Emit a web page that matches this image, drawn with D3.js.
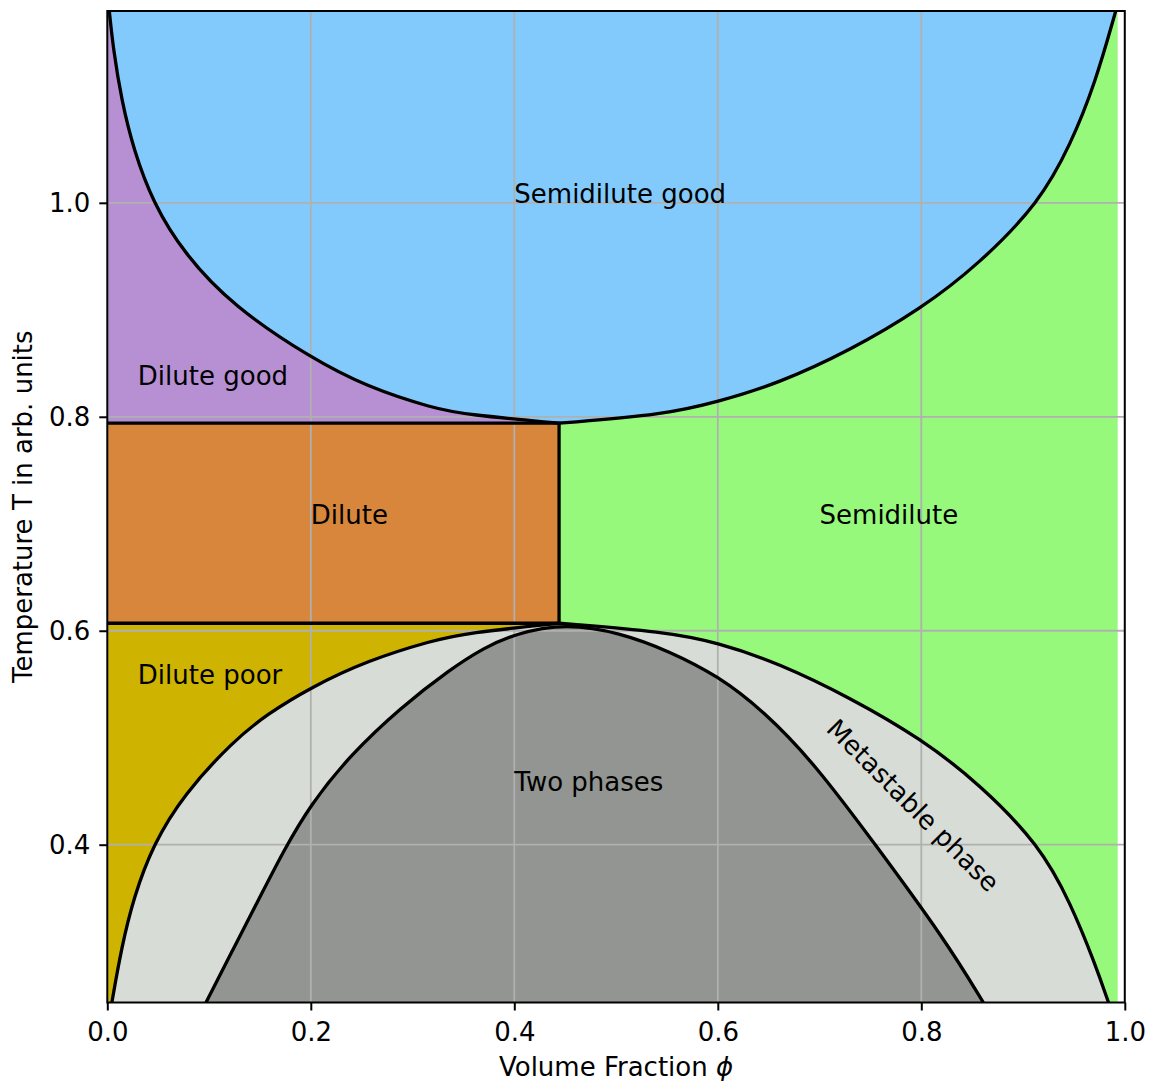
<!DOCTYPE html>
<html>
<head>
<meta charset="utf-8">
<script src="https://cdn.jsdelivr.net/npm/d3@7"></script>
<style>
  body { margin: 0; background: #fff; }
  text { font-family: "DejaVu Sans", sans-serif; }
</style>
</head>
<body>
<div id="chart"></div>
<script>
// boundary of the semidilute good region
const goodLeftX  = [0.002, 0.006, 0.014, 0.026, 0.045, 0.075, 0.124, 0.2, 0.255, 0.32, 0.353, 0.444];
const goodLeftT  = [1.179, 1.143, 1.096, 1.049, 1.0, 0.953, 0.903, 0.855, 0.828, 0.808, 0.802, 0.794];
const goodRightX = [0.444, 0.548, 0.6, 0.659, 0.730, 0.8, 0.857, 0.916, 0.947, 0.971, 0.991];
const goodRightT = [0.794, 0.802, 0.814, 0.831, 0.862, 0.901, 0.943, 1.0, 1.055, 1.112, 1.179];

// binodal (outer, metastable boundary)
const binLeftX  = [0.0045, 0.014, 0.026, 0.045, 0.075, 0.124, 0.157, 0.2, 0.255, 0.32, 0.353, 0.444];
const binLeftT  = [0.2525, 0.304, 0.351, 0.4, 0.447, 0.497, 0.522, 0.547, 0.572, 0.591, 0.598, 0.607];
const binRightX = [0.444, 0.548, 0.6, 0.659, 0.730, 0.8, 0.857, 0.916, 0.947, 0.971, 0.984];
const binRightT = [0.607, 0.599, 0.589, 0.570, 0.5375, 0.499, 0.457, 0.4, 0.345, 0.288, 0.2525];

// spinodal (two phases)
const spinX = [0.097, 0.124, 0.150, 0.173, 0.2, 0.239, 0.288, 0.337, 0.37, 0.4, 0.45,
               0.505, 0.552, 0.6, 0.645, 0.695, 0.755, 0.8235, 0.861];
const spinT = [0.2525, 0.303, 0.351, 0.394, 0.438, 0.484, 0.528, 0.564, 0.584, 0.597, 0.607,
               0.598, 0.581, 0.558, 0.525, 0.476, 0.4, 0.311, 0.2525];

// dilute box corners
const phiStar = 0.444;
const tUpper = 0.794;
const tLower = 0.607;
const phiEnd = 0.993;

const xTicks = [0.0, 0.2, 0.4, 0.6, 0.8, 1.0];
const yTicks = [0.4, 0.6, 0.8, 1.0];

const labels = [
  {text: "Semidilute good", x: 0.4, t: 1.0},
  {text: "Dilute good", x: 0.03, t: 0.83},
  {text: "Dilute", x: 0.2, t: 0.7},
  {text: "Semidilute", x: 0.7, t: 0.7},
  {text: "Dilute poor", x: 0.03, t: 0.55},
  {text: "Two phases", x: 0.4, t: 0.45}
];

// svg setup
const W = 1154, H = 1081;
const margin = {left: 107.3, top: 11, right: 1154 - 1124.8, bottom: 1081 - 1002.5};
const width = W - margin.left - margin.right,
      height = H - margin.top - margin.bottom;

const svg = d3.select("#chart").append("svg")
    .attr("width", W)
    .attr("height", H);

const x = d3.scaleLinear().domain([0, 1]).range([0, width]);
const y = d3.scaleLinear().domain([0.2525, 1.1793]).range([height, 0]);

svg.append("clipPath").attr("id", "plotclip")
  .append("rect").attr("width", width).attr("height", height);

const g = svg.append("g")
    .attr("transform", `translate(${margin.left},${margin.top})`);
const plot = g.append("g").attr("clip-path", "url(#plotclip)");

const yMin = y.domain()[0], yMax = y.domain()[1];

const line = d3.line()
    .x(d => x(d[0]))
    .y(d => y(d[1]))
    .curve(d3.curveBasis);

// two branches joined at the corner of the dilute box
const joined = (a, b) => line(a) + line(b).replace(/^M/, "L");

const goodD = joined(d3.zip(goodLeftX, goodLeftT), d3.zip(goodRightX, goodRightT));
const binD = joined(d3.zip(binLeftX, binLeftT), d3.zip(binRightX, binRightT));
const spinD = line(d3.zip(spinX, spinT));

function box(x0, x1, t0, t1, color) {
  plot.append("rect")
    .attr("x", x(x0))
    .attr("y", y(t1))
    .attr("width", x(x1) - x(x0))
    .attr("height", y(t0) - y(t1))
    .attr("fill", color);
}

// region fills
box(phiStar, phiEnd, yMin, yMax, "#96f97b");   // semidilute
box(0, phiStar, tUpper, yMax, "#b790d4");      // dilute good
box(0, phiStar, tLower, tUpper, "#d8863b");    // dilute
box(0, phiStar, yMin, tLower, "#ceb301");      // dilute poor

plot.append("path").attr("d", binD + "Z").attr("fill", "#d8dcd6");
plot.append("path").attr("d", spinD + "Z").attr("fill", "#929591");
plot.append("path").attr("d", goodD + "Z").attr("fill", "#82cafc");

// grid
plot.append("g").selectAll("line")
  .data(xTicks)
  .join("line")
    .attr("x1", d => x(d)).attr("x2", d => x(d))
    .attr("y1", 0).attr("y2", height)
    .attr("stroke", "#b0b0b0").attr("stroke-width", 1.8);
plot.append("g").selectAll("line")
  .data(yTicks)
  .join("line")
    .attr("x1", 0).attr("x2", width)
    .attr("y1", d => y(d)).attr("y2", d => y(d))
    .attr("stroke", "#b0b0b0").attr("stroke-width", 1.8);

// boundaries
[goodD, binD, spinD].forEach(d => {
  plot.append("path")
    .attr("d", d)
    .attr("fill", "none")
    .attr("stroke", "#000")
    .attr("stroke-width", 3.3)
    .attr("stroke-linejoin", "round");
});
plot.append("path")
  .attr("d", d3.line()([[x(0), y(tUpper)], [x(phiStar), y(tUpper)], [x(phiStar), y(tLower)], [x(0), y(tLower)]]))
  .attr("fill", "none")
  .attr("stroke", "#000")
  .attr("stroke-width", 3.3);

// region labels
g.append("g").selectAll("text")
  .data(labels)
  .join("text")
    .attr("x", d => x(d.x))
    .attr("y", d => y(d.t))
    .attr("font-size", 26)
    .text(d => d.text);

g.append("text")
  .attr("transform", `translate(${x(0.7856)},${y(0.4308)}) rotate(45)`)
  .attr("text-anchor", "middle")
  .attr("font-size", 26)
  .text("Metastable phase");

// frame
g.append("rect")
  .attr("width", width).attr("height", height)
  .attr("fill", "none").attr("stroke", "#000").attr("stroke-width", 2);

// axes
const xAxis = g.append("g")
  .attr("transform", `translate(0,${height})`)
  .call(d3.axisBottom(x).tickValues(xTicks).tickFormat(d3.format(".1f"))
        .tickSize(8).tickSizeOuter(0).tickPadding(12));
const yAxis = g.append("g")
  .call(d3.axisLeft(y).tickValues(yTicks).tickFormat(d3.format(".1f"))
        .tickSize(8).tickSizeOuter(0).tickPadding(9));
[xAxis, yAxis].forEach(a => {
  a.select(".domain").remove();
  a.selectAll("line").attr("stroke", "#000").attr("stroke-width", 2);
  a.selectAll("text").attr("font-size", 26).attr("fill", "#000")
    .attr("font-family", "DejaVu Sans, sans-serif");
});

// axis labels
const xl = svg.append("text")
  .attr("x", margin.left + width / 2)
  .attr("y", 1076)
  .attr("text-anchor", "middle")
  .attr("font-size", 26);
xl.append("tspan").text("Volume Fraction ");
xl.append("tspan").attr("font-style", "italic").text("ϕ");

svg.append("text")
  .attr("transform", `translate(32.3,${margin.top + height / 2}) rotate(-90)`)
  .attr("text-anchor", "middle")
  .attr("font-size", 26)
  .text("Temperature T in arb. units");
</script>
</body>
</html>
